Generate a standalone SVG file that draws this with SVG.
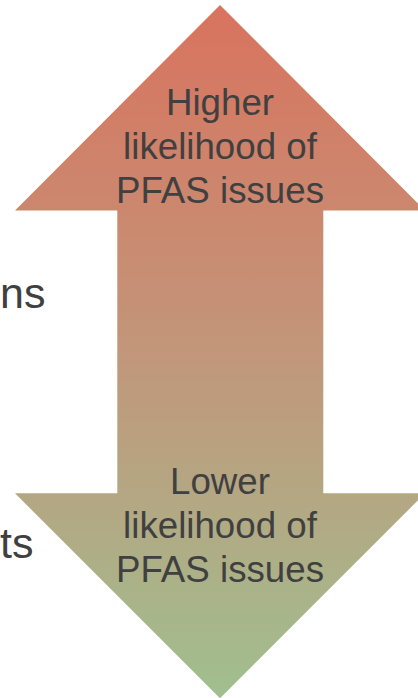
<svg xmlns="http://www.w3.org/2000/svg" width="418" height="698" viewBox="0 0 418 698">
  <defs>
    <linearGradient id="grad" x1="0" y1="5" x2="0" y2="698" gradientUnits="userSpaceOnUse">
      <stop offset="0" stop-color="#d9735e"/>
      <stop offset="0.5" stop-color="#c2967a"/>
      <stop offset="1" stop-color="#a0bf8f"/>
    </linearGradient>
  </defs>
  <style>
    .lbl { font-family: "Liberation Sans", Arial, sans-serif; font-size: 36.7px; fill: #404040; text-anchor: middle; }
    .side { font-family: "Liberation Sans", Arial, sans-serif; font-size: 43px; fill: #404040; }
  </style>
  <rect width="418" height="698" fill="#ffffff"/>
  <g id="side-labels">
    <text class="side" x="0" y="308.3">ns</text>
    <text class="side" x="0" y="557.7">ts</text>
  </g>
  <g id="double-arrow">
    <polygon points="220,5 425,210.5 323.3,210.5 323.3,493.3 425,493.3 220,698.3 15,493.3 117.3,493.3 117.3,210.5 15,210.5" fill="url(#grad)"/>
    <text class="lbl" x="220" y="114.5">Higher</text>
    <text class="lbl" x="220" y="158.5">likelihood of</text>
    <text class="lbl" x="220" y="202.5">PFAS issues</text>
    <text class="lbl" x="220" y="494.3">Lower</text>
    <text class="lbl" x="220" y="538.3">likelihood of</text>
    <text class="lbl" x="220" y="582.3">PFAS issues</text>
  </g>
</svg>
